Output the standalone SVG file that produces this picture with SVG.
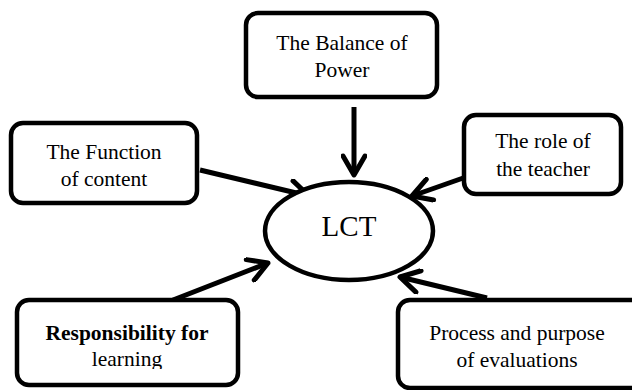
<svg xmlns="http://www.w3.org/2000/svg" width="632" height="390" viewBox="0 0 632 390">
  <defs>
    <marker id="chev" viewBox="0 0 26 26" markerUnits="userSpaceOnUse" markerWidth="26" markerHeight="26" refX="22" refY="13" orient="auto">
      <path d="M3,2 L22,13 L3,24" fill="none" stroke="#000" stroke-width="5" stroke-linecap="round" stroke-linejoin="round"/>
    </marker>
    <clipPath id="clipLearning">
      <rect x="0" y="300" width="260" height="69"/>
    </clipPath>
  </defs>
  <style>
    .box { fill: #fff; stroke: #000; stroke-width: 4.5; }
    .lbl { font-family: "Liberation Serif", "Times New Roman", "DejaVu Serif", serif; font-size: 21.5px; fill: #000; text-anchor: middle; }
    .b { font-weight: bold; }
    .conn { stroke: #000; stroke-width: 5; fill: none; marker-end: url(#chev); }
  </style>
  <rect width="632" height="390" fill="#fff"/>

  <g id="connectors">
    <line class="conn" x1="354" y1="107" x2="354" y2="175"/>
    <line class="conn" x1="200" y1="170" x2="309" y2="196"/>
    <line class="conn" x1="466" y1="177" x2="412" y2="196"/>
    <line class="conn" x1="173" y1="300" x2="268" y2="263"/>
    <line class="conn" x1="487" y1="298" x2="400" y2="277"/>
  </g>

  <g id="node-balance">
    <rect class="box" x="246" y="13" width="191" height="84" rx="12"/>
    <text class="lbl" x="342" y="50">The Balance of</text>
    <text class="lbl" x="342" y="77">Power</text>
  </g>

  <g id="node-function">
    <rect class="box" x="11" y="123" width="186" height="80" rx="12"/>
    <text class="lbl" x="104" y="159">The Function</text>
    <text class="lbl" x="104" y="186">of content</text>
  </g>

  <g id="node-teacher">
    <rect class="box" x="464" y="115" width="157" height="79" rx="12"/>
    <text class="lbl" x="543" y="148">The role of</text>
    <text class="lbl" x="543" y="176">the teacher</text>
  </g>

  <g id="node-lct">
    <ellipse cx="349" cy="231" rx="84" ry="49" fill="#fff" stroke="#000" stroke-width="4.5"/>
    <text class="lbl" x="349" y="236" style="font-size:29px">LCT</text>
  </g>

  <g id="node-responsibility">
    <rect class="box" x="17" y="300" width="221" height="85" rx="12"/>
    <text class="lbl b" x="127" y="340">Responsibility for</text>
    <text class="lbl" x="127" y="366" clip-path="url(#clipLearning)">learning</text>
  </g>

  <g id="node-evaluations">
    <rect class="box" x="398" y="300" width="245" height="88" rx="12"/>
    <text class="lbl" x="517" y="340">Process and purpose</text>
    <text class="lbl" x="517" y="367">of evaluations</text>
  </g>
</svg>
